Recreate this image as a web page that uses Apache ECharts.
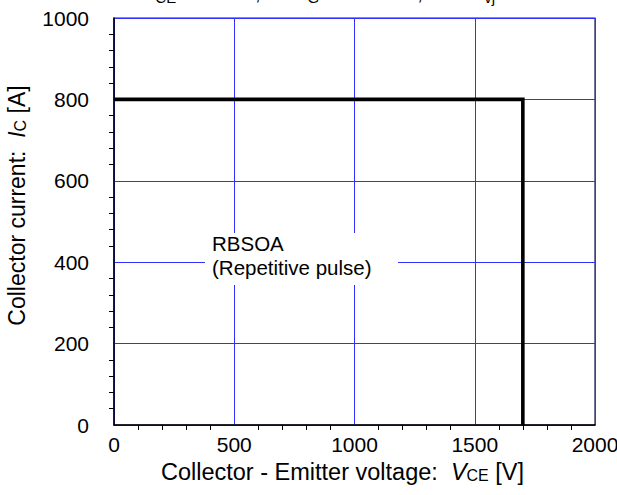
<!DOCTYPE html>
<html>
<head>
<meta charset="utf-8">
<script src="https://cdn.jsdelivr.net/npm/echarts@6/dist/echarts.min.js"></script>
<style>
  html, body { margin: 0; padding: 0; background: #fff; }
  #chart { width: 617px; height: 495px; }
</style>
</head>
<body>
<div id="chart"></div>
<script>
// RBSOA boundary: collector-emitter voltage [V] vs collector current [A]
const boundaryVoltage = [0, 1700, 1700];
const boundaryCurrent = [800, 800, 0];

const xRange = [0, 2000];
const xStep = 500;
const yRange = [0, 1000];
const yStep = 200;

const FONT = '"Liberation Sans", Arial, sans-serif';
const gridBlue = '#3030ff';

const chart = echarts.init(document.getElementById('chart'), null, { renderer: 'svg' });

function nameRich(size, subSize) {
  return {
    t: { fontFamily: FONT, fontSize: size, color: '#000' },
    i: { fontFamily: FONT, fontSize: size, fontStyle: 'italic', color: '#000' },
    s: { fontFamily: FONT, fontSize: subSize, color: '#000', verticalAlign: 'bottom', padding: [7, 0, 0, 0] }
  };
}

const option = {
  backgroundColor: '#ffffff',
  animation: false,
  grid: {
    left: 114, right: 22, top: 18, bottom: 70,
    containLabel: false,
    outerBoundsMode: 'none',
    show: true, borderColor: '#1c1c5c', borderWidth: 1.2,
    backgroundColor: 'transparent'
  },
  xAxis: {
    type: 'value',
    min: xRange[0], max: xRange[1], interval: xStep,
    name: '{t|Collector - Emitter voltage:  }{i|V}{s|CE}{t| [V]}',
    nameLocation: 'middle',
    nameGap: 30,
    nameTextStyle: { rich: nameRich(23.5, 16), padding: [0, 24, 0, 0] },
    axisLine: { show: true, onZero: false, lineStyle: { color: '#000', width: 1.5 } },
    axisTick: { show: false },
    minorTick: { show: true, splitNumber: 5, length: 5, lineStyle: { color: '#000', width: 1 } },
    axisLabel: {
      fontFamily: FONT, fontSize: 21, color: '#000', margin: 9,
      formatter: v => String(v)
    },
    splitLine: { show: true, lineStyle: { color: gridBlue, width: 1 } }
  },
  yAxis: {
    type: 'value',
    min: yRange[0], max: yRange[1], interval: yStep,
    name: '{t|Collector current:  }{i|I}{s|C}{t| [A]}',
    nameLocation: 'middle',
    nameRotate: 90,
    nameGap: 86,
    nameTextStyle: { rich: nameRich(23, 16), padding: [0, 0, 0, 32] },
    axisLine: { show: true, onZero: false, lineStyle: { color: '#000', width: 1.5 } },
    axisTick: { show: false },
    minorTick: { show: true, splitNumber: 5, length: 5, lineStyle: { color: '#000', width: 1 } },
    axisLabel: {
      fontFamily: FONT, fontSize: 21, color: '#000', margin: 25,
      formatter: v => String(v)
    },
    splitLine: { show: true, lineStyle: { color: gridBlue, width: 1 } }
  },
  series: [{
    type: 'line',
    data: boundaryVoltage.map((v, i) => [v, boundaryCurrent[i]]),
    symbol: 'none',
    lineStyle: { color: '#000', width: 3.6, join: 'miter', cap: 'butt' },
    z: 5
  }],
  graphic: [
    {
      // white label box over the grid
      type: 'rect',
      shape: { x: 205, y: 233, width: 193, height: 52 },
      style: { fill: '#fff' },
      z: 9
    },
    {
      type: 'text',
      left: 212, top: 231, z: 10,
      style: {
        text: 'RBSOA\n(Repetitive pulse)',
        font: '20.5px ' + FONT,
        fill: '#000',
        lineHeight: 24
      }
    },
    {
      // test conditions line above the plot (clipped by the top edge)
      type: 'text',
      left: 142, top: -17, z: 10,
      style: {
        rich: {
          t: { fontFamily: FONT, fontSize: 20, fill: '#000' },
          r: { fontFamily: FONT, fontSize: 20, fill: '#000', width: 47, align: 'right' },
          q: { fontFamily: FONT, fontSize: 20, fill: '#000', width: 165, align: 'right' },
          s: { fontFamily: FONT, fontSize: 15, fill: '#000', verticalAlign: 'bottom', padding: [9, 0, 0, 0] }
        },
        text: '{t|V}{s|CE}{t|= 1700 V,}{r|R}{s|G}{q|= 1.8 Ω,   T}{s|vj}{t|  = 150 °C}'
      }
    }
  ]
};

chart.setOption(option);
</script>
</body>
</html>
